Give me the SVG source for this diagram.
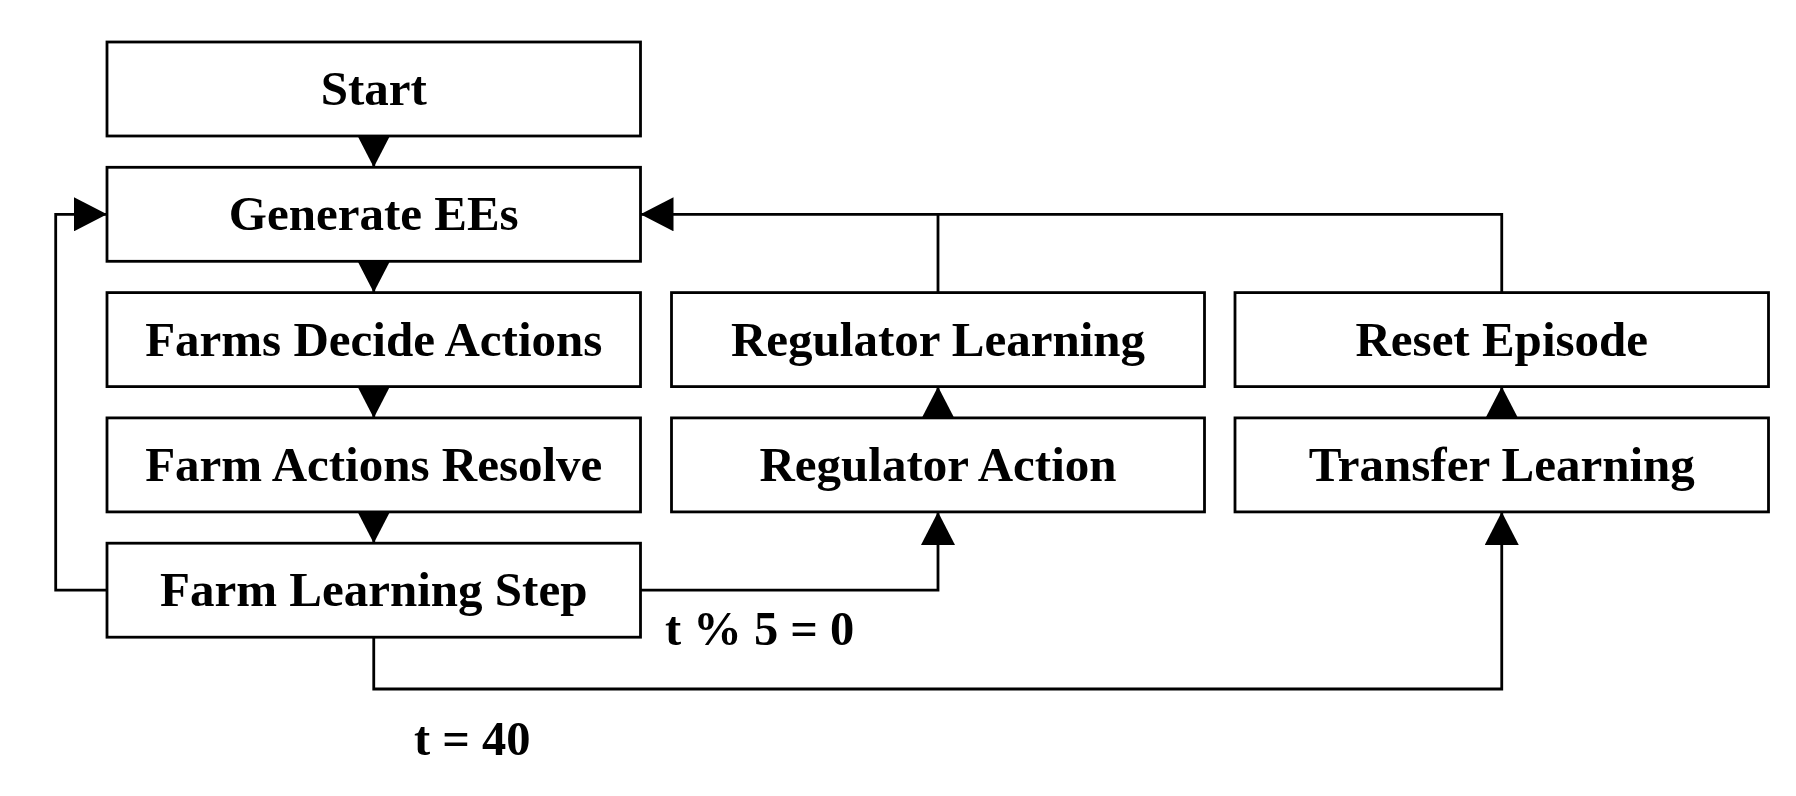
<svg xmlns="http://www.w3.org/2000/svg" width="1796" height="796" viewBox="0 0 1796 796">
<style>
.box{fill:#fff;stroke:#000;stroke-width:2.8}
.lbl{font-family:"Liberation Serif","Times New Roman",serif;font-weight:bold;font-size:48.5px;fill:#000}
.ctr{text-anchor:middle;font-size:49px}
.con{fill:none;stroke:#000;stroke-width:2.8}
</style>
<defs>
<marker id="arr" viewBox="0 0 33 34" refX="33" refY="17" markerWidth="33" markerHeight="34" markerUnits="userSpaceOnUse" orient="auto">
<path d="M0,0 L33,17 L0,34 z" fill="#000"/>
</marker>
</defs>
<rect width="1796" height="796" fill="#fff"/>
<g id="connectors">
<path class="con" d="M373.75,135.3 L373.75,167.3" marker-end="url(#arr)"/>
<path class="con" d="M373.75,261.3 L373.75,292.6" marker-end="url(#arr)"/>
<path class="con" d="M373.75,386.6 L373.75,417.9" marker-end="url(#arr)"/>
<path class="con" d="M373.75,511.9 L373.75,543.2" marker-end="url(#arr)"/>
<path class="con" d="M107,590.2 L55.7,590.2 L55.7,214.3 L107,214.3" marker-end="url(#arr)"/>
<path class="con" d="M640.5,590.2 L938,590.2 L938,511.9" marker-end="url(#arr)"/>
<path class="con" d="M373.75,637.2 L373.75,689 L1501.75,689 L1501.75,511.9" marker-end="url(#arr)"/>
<path class="con" d="M938,417.9 L938,386.6" marker-end="url(#arr)"/>
<path class="con" d="M1501.75,417.9 L1501.75,386.6" marker-end="url(#arr)"/>
<path class="con" d="M938,292.6 L938,214.3 L640.5,214.3" marker-end="url(#arr)"/>
<path class="con" d="M1501.75,292.6 L1501.75,214.3 L938,214.3"/>
</g>
<g id="start"><rect class="box" x="107" y="42" width="533.5" height="94"/><text class="lbl ctr" x="373.75" y="105">Start</text></g>
<g id="generate"><rect class="box" x="107" y="167.3" width="533.5" height="94"/><text class="lbl ctr" x="373.75" y="230.3">Generate EEs</text></g>
<g id="farms-decide"><rect class="box" x="107" y="292.6" width="533.5" height="94"/><text class="lbl ctr" x="373.75" y="355.6">Farms Decide Actions</text></g>
<g id="farm-resolve"><rect class="box" x="107" y="417.9" width="533.5" height="94"/><text class="lbl ctr" x="373.75" y="480.9">Farm Actions Resolve</text></g>
<g id="farm-learning"><rect class="box" x="107" y="543.2" width="533.5" height="94"/><text class="lbl ctr" x="373.75" y="606.2">Farm Learning Step</text></g>
<g id="reg-learning"><rect class="box" x="671.5" y="292.6" width="533" height="94"/><text class="lbl ctr" x="938" y="355.6">Regulator Learning</text></g>
<g id="reg-action"><rect class="box" x="671.5" y="417.9" width="533" height="94"/><text class="lbl ctr" x="938" y="480.9">Regulator Action</text></g>
<g id="reset"><rect class="box" x="1235" y="292.6" width="533.5" height="94"/><text class="lbl ctr" x="1501.75" y="355.6">Reset Episode</text></g>
<g id="transfer"><rect class="box" x="1235" y="417.9" width="533.5" height="94"/><text class="lbl ctr" x="1501.75" y="480.9">Transfer Learning</text></g>
<g id="labels">
<text class="lbl" x="665" y="645">t % 5 = 0</text>
<text class="lbl" x="414" y="755">t = 40</text>
</g>
</svg>
